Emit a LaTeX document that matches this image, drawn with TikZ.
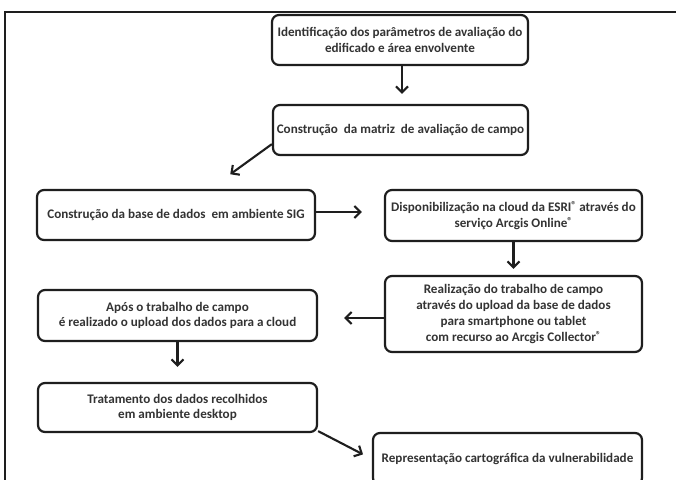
\documentclass[tikz,border=0pt]{standalone}
\usepackage{fontspec}
\setmainfont{Carlito}
\usetikzlibrary{arrows.meta}
\definecolor{txt}{HTML}{333333}
\definecolor{edge}{HTML}{1E1E1E}
\newcommand{\reg}{\raisebox{0.5ex}{\fontsize{10}{10}\selectfont ®}}
\tikzset{
  box/.style={draw=edge, line width=2.2pt, rounded corners=7pt, align=center,
    inner sep=2pt, font=\fontsize{13.1}{15.8}\selectfont\bfseries, text=txt},
  arr/.style={draw=edge, line width=2.1pt, -{Straight Barb[length=6pt,width=12pt,line width=2.1pt]}},
}
\begin{document}
\begin{tikzpicture}[x=1pt,y=-1pt]
\useasboundingbox (0,0) rectangle (676,479);
\clip (0,0) rectangle (676,479);
\fill[white] (0,0) rectangle (676,479);
% outer frame
\draw[edge, line width=1.3pt] (676,12) -- (5,12) -- (5,485);
% boxes
\node[box, minimum width=256pt, minimum height=50pt] (b1) at (400,40)
  {Identificação dos parâmetros de avaliação do\\edificado e área envolvente};
\node[box, minimum width=255pt, minimum height=50pt] (b2) at (400.5,130)
  {Construção\ \ da matriz\ \ de avaliação de campo};
\node[box, minimum width=278pt, minimum height=50pt] (b3) at (176,215)
  {Construção da base de dados\ \ em ambiente SIG};
\node[box, minimum width=257pt, minimum height=51pt] (b4) at (513.5,215.5)
  {Disponibilização na cloud da ESRI\reg{} através do\\serviço Arcgis Online\reg};
\node[box, minimum width=257pt, minimum height=76pt] (b5) at (513.5,314)
  {Realização do trabalho de campo\\através do upload da base de dados\\para smartphone ou tablet\\com recurso ao Arcgis Collector\reg};
\node[box, minimum width=279pt, minimum height=51pt] (b6) at (177.5,315.5)
  {Após o trabalho de campo\\é realizado o upload dos dados para a cloud};
\node[box, minimum width=279pt, minimum height=49pt] (b7) at (177.5,407.5)
  {Tratamento dos dados recolhidos\\em ambiente desktop};
\node[box, minimum width=269pt, minimum height=52pt] (b8) at (507.5,459)
  {Representação cartográfica da vulnerabilidade};
% connectors
\draw[arr, shorten >=10pt] ([xshift=2pt]b1.south) -- ([xshift=2pt]b1.south |- b2.north);
\draw[arr, shorten >=25pt] ([yshift=12pt]b2.south west) -- ([xshift=34pt]b3.north);
\draw[arr, shorten >=22pt] ([yshift=3pt]b3.east) -- ([yshift=3pt]b3.east -| b4.west);
\draw[arr, shorten >=6pt] (b4.south) -- (b5.north);
\draw[arr, shorten >=26pt] ([yshift=-4pt]b5.west) -- ([yshift=-4pt]b5.west -| b6.east);
\draw[arr, shorten >=15pt] (b6.south) -- (b7.north);
\draw[arr, shorten >=10pt] ([yshift=2pt]b7.south east) -- (b8.west);
\end{tikzpicture}
\end{document}
